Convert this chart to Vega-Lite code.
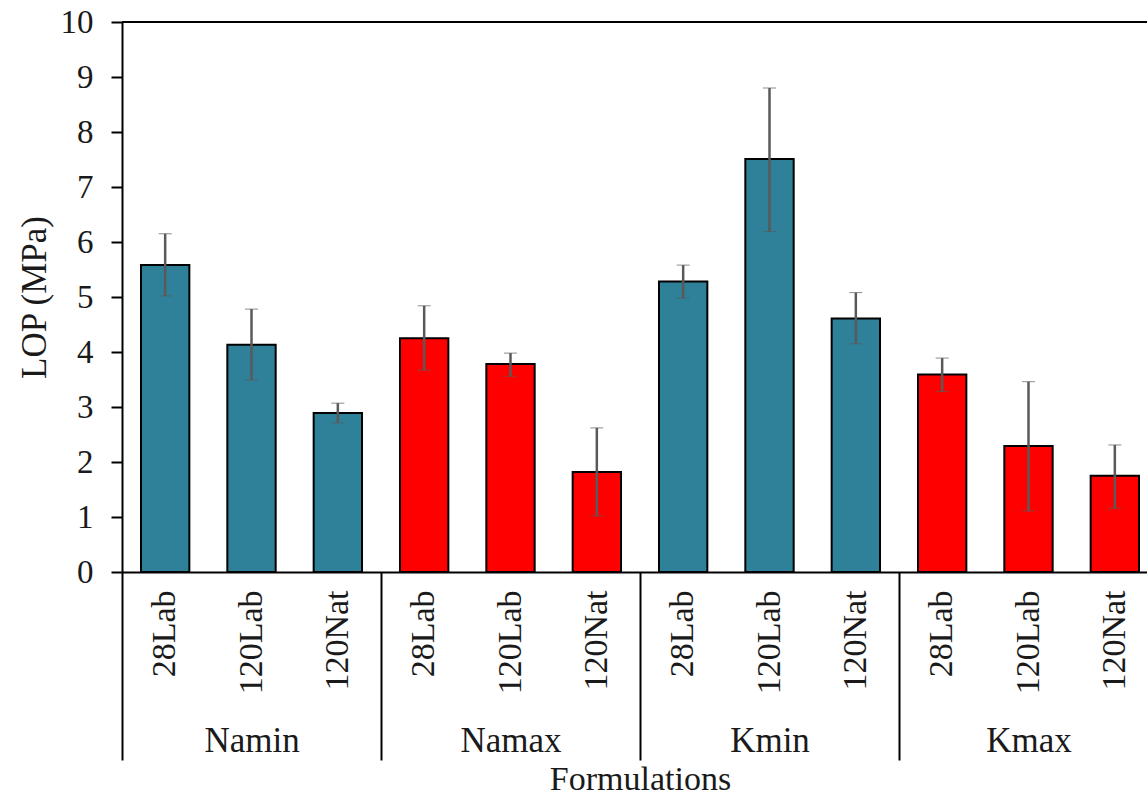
{
  "$schema": "https://vega.github.io/schema/vega-lite/v6.json",
  "autosize": {"type": "none"},
  "padding": {"left": 122, "top": 22, "right": 0, "bottom": 225},
  "width": 1025,
  "height": 550,
  "config": {
    "font": "'Liberation Serif', 'Times New Roman', serif",
    "view": {"stroke": null},
    "axis": {"labelFont": "'Liberation Serif', 'Times New Roman', serif", "titleFont": "'Liberation Serif', 'Times New Roman', serif", "labelColor": "#1a1a1a", "titleColor": "#1a1a1a", "titleFontWeight": "normal"}
  },
  "data": {
    "values": [
      {"group": "Namin", "key": "Namin|28Lab", "value": 5.58, "lo": 5.02, "hi": 6.15},
      {"group": "Namin", "key": "Namin|120Lab", "value": 4.13, "lo": 3.49, "hi": 4.78},
      {"group": "Namin", "key": "Namin|120Nat", "value": 2.89, "lo": 2.71, "hi": 3.07},
      {"group": "Namax", "key": "Namax|28Lab", "value": 4.25, "lo": 3.67, "hi": 4.84},
      {"group": "Namax", "key": "Namax|120Lab", "value": 3.78, "lo": 3.56, "hi": 3.98},
      {"group": "Namax", "key": "Namax|120Nat", "value": 1.82, "lo": 1.02, "hi": 2.62},
      {"group": "Kmin", "key": "Kmin|28Lab", "value": 5.28, "lo": 4.98, "hi": 5.58},
      {"group": "Kmin", "key": "Kmin|120Lab", "value": 7.51, "lo": 6.19, "hi": 8.8},
      {"group": "Kmin", "key": "Kmin|120Nat", "value": 4.61, "lo": 4.15, "hi": 5.08},
      {"group": "Kmax", "key": "Kmax|28Lab", "value": 3.59, "lo": 3.28, "hi": 3.89},
      {"group": "Kmax", "key": "Kmax|120Lab", "value": 2.29, "lo": 1.11, "hi": 3.46},
      {"group": "Kmax", "key": "Kmax|120Nat", "value": 1.75, "lo": 1.16, "hi": 2.31}
    ]
  },
  "layer": [
    {
      "mark": {"type": "bar", "stroke": "black", "strokeWidth": 2},
      "encoding": {
        "x": {
          "field": "key", "type": "nominal", "sort": null,
          "scale": {"type": "band", "paddingInner": 0.44, "paddingOuter": 0.22, "range": [0, 1036]},
          "axis": {
            "orient": "bottom", "title": null, "labelAngle": 270, "labelFontSize": 34,
            "labelExpr": "split(datum.label, '|')[1]", "ticks": false, "labelPadding": 18,
            "domainColor": "black", "domainWidth": 2, "labelOverlap": false
          }
        },
        "y": {
          "field": "value", "type": "quantitative", "title": "LOP (MPa)",
          "scale": {"domain": [0, 10], "nice": false},
          "axis": {
            "title": "LOP (MPa)", "titleFontSize": 35, "titlePadding": 8,
            "values": [0, 1, 2, 3, 4, 5, 6, 7, 8, 9, 10], "grid": false,
            "labelFontSize": 33, "labelPadding": 18, "tickSize": 11, "tickWidth": 2,
            "tickColor": "black", "domainColor": "black", "domainWidth": 2, "labelOverlap": false
          }
        },
        "color": {
          "field": "group", "type": "nominal",
          "scale": {"domain": ["Namin", "Namax", "Kmin", "Kmax"], "range": ["#2F8099", "#FF0000", "#2F8099", "#FF0000"]},
          "legend": null
        }
      }
    },
    {
      "mark": {"type": "errorbar", "ticks": {"size": 13, "color": "#5A5A5A", "strokeWidth": 2.5}, "rule": {"color": "#5A5A5A", "strokeWidth": 2.5}},
      "encoding": {
        "x": {
          "field": "key", "type": "nominal", "sort": null,
          "scale": {"type": "band", "paddingInner": 0.44, "paddingOuter": 0.22, "range": [0, 1036]},
          "axis": null
        },
        "y": {"field": "lo", "type": "quantitative", "title": "LOP (MPa)"},
        "y2": {"field": "hi"}
      }
    },
    {
      "mark": {"type": "rule", "color": "black", "strokeWidth": 2},
      "encoding": {"y": {"datum": 10}}
    },
    {
      "mark": {"type": "rule", "opacity": 0},
      "encoding": {
        "x": {
          "field": "group", "type": "nominal", "sort": null,
          "scale": {"type": "band", "padding": 0, "range": [0, 1036]},
          "axis": {
            "orient": "bottom", "title": "Formulations", "titleFontSize": 34, "titlePadding": 1,
            "labelAngle": 0, "labelFontSize": 35, "domain": false, "ticks": true,
            "tickBand": "extent", "tickSize": 188, "tickWidth": 2, "tickColor": "black",
            "labelPadding": -37, "labelOverlap": false
          }
        }
      }
    }
  ],
  "resolve": {"scale": {"x": "independent"}, "axis": {"x": "independent"}}
}
